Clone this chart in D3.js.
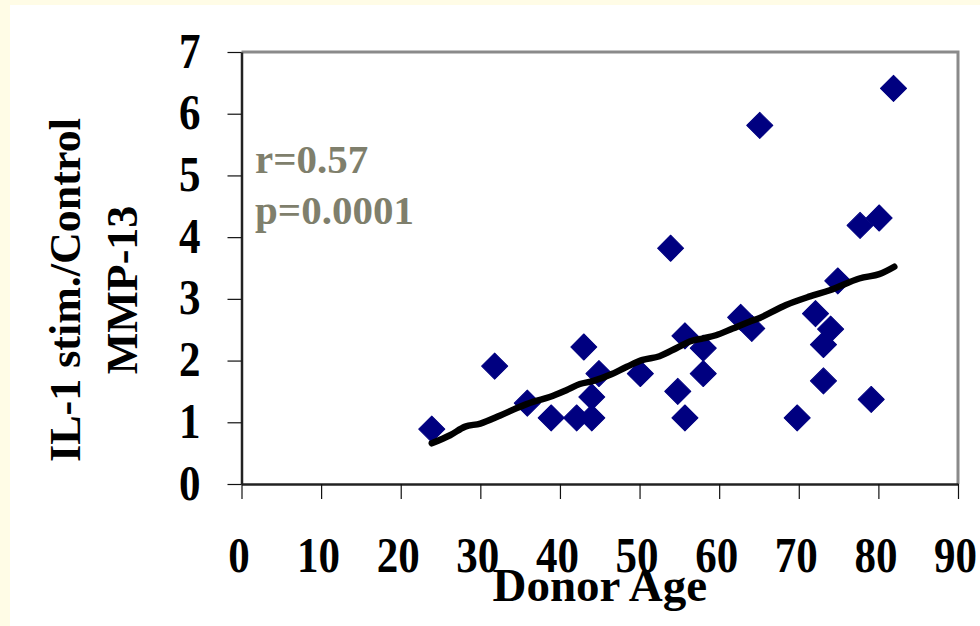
<!DOCTYPE html>
<html>
<head>
<meta charset="utf-8">
<script src="https://cdn.jsdelivr.net/npm/d3@7"></script>
<style>
  html, body { margin: 0; padding: 0; background: #FFFCE6; }
  svg { display: block; }
  text { font-family: "Liberation Serif", "Times New Roman", serif; font-weight: bold; }
</style>
</head>
<body>
<svg id="chart" width="980" height="626"></svg>
<script>
// ---- data ----
const donorAge = [23.9, 31.8, 35.9, 38.9, 42.1, 43.0, 44.0, 44.0, 44.9, 50.1, 53.9, 54.8, 55.7, 55.7, 58.0, 58.0, 62.7, 64.1, 65.1, 69.8, 72.1, 73.1, 73.1, 74.0, 74.9, 77.7, 79.1, 80.1, 81.9];
const mmp13Ratio = [0.89, 1.91, 1.31, 1.07, 1.07, 2.22, 1.41, 1.07, 1.79, 1.79, 3.82, 1.50, 2.40, 1.07, 2.20, 1.79, 2.70, 2.52, 5.81, 1.07, 2.76, 2.26, 1.67, 2.51, 3.29, 4.19, 1.37, 4.31, 6.41];
const trendAge = [23.9, 26.2, 28.1, 30.0, 32.5, 34.6, 36.6, 38.7, 40.8, 42.5, 44.2, 46.3, 48.4, 50.4, 52.5, 54.6, 56.3, 58.0, 59.6, 61.7, 63.8, 65.1, 68.4, 71.4, 73.9, 77.6, 80.1, 82.0];
const trendValue = [0.66, 0.79, 0.93, 0.98, 1.11, 1.23, 1.33, 1.41, 1.52, 1.62, 1.67, 1.77, 1.90, 2.01, 2.07, 2.20, 2.31, 2.36, 2.41, 2.52, 2.63, 2.69, 2.90, 3.04, 3.14, 3.33, 3.40, 3.52];
const xTicks = [0, 10, 20, 30, 40, 50, 60, 70, 80, 90];
const yTicks = [0, 1, 2, 3, 4, 5, 6, 7];
const statLines = ["r=0.57", "p=0.0001"];
const yTitleLines = ["IL-1 stim./Control", "MMP-13"];
const xTitle = "Donor Age";

(function () {
  const svg = d3.select("#chart");
  svg.append("rect").attr("x", 0).attr("y", 0).attr("width", 980).attr("height", 626).attr("fill", "#FFFCE6");
  svg.append("rect").attr("x", 10).attr("y", 5).attr("width", 970).attr("height", 621).attr("fill", "#FFFFFF");

  const pL = 241.5, pR = 958, pT = 52, pB = 484;
  const x = d3.scaleLinear().domain([0, 90]).range([pL, pR]);
  const y = d3.scaleLinear().domain([0, 7]).range([pB, pT]);

  // frame (top/right grey)
  svg.append("path")
    .attr("d", `M${pL},${pT}H${pR}V${pB}`)
    .attr("fill", "none").attr("stroke", "#8a8a8a").attr("stroke-width", 3);

  const font = "'Liberation Serif','Times New Roman',serif";

  // x axis
  const xAxis = svg.append("g").attr("transform", `translate(0,${pB})`)
    .call(d3.axisBottom(x).tickValues(xTicks).tickSize(15).tickSizeOuter(0).tickFormat(d3.format("d")));
  xAxis.select(".domain").attr("stroke", "#222").attr("stroke-width", 2.5);
  xAxis.selectAll(".tick line").attr("stroke", "#111").attr("stroke-width", 1.2);
  xAxis.selectAll(".tick text")
    .attr("fill", "#000").attr("font-size", 43).attr("dy", 0)
    .attr("x", -3).attr("y", 88 / 1.2)
    .attr("transform", "scale(1,1.2)")
    .style("font-family", font).style("font-weight", "bold");

  // y axis
  const yAxis = svg.append("g").attr("transform", `translate(${pL},0)`)
    .call(d3.axisLeft(y).tickValues(yTicks).tickSize(14).tickSizeOuter(0).tickFormat(d3.format("d")));
  yAxis.select(".domain").attr("stroke", "#222").attr("stroke-width", 2.5);
  yAxis.selectAll(".tick line").attr("stroke", "#111").attr("stroke-width", 1.2);
  yAxis.selectAll(".tick text")
    .attr("fill", "#000").attr("font-size", 43).attr("dy", 0)
    .attr("x", -41).attr("y", 15 / 1.2)
    .attr("transform", "scale(1,1.2)")
    .style("font-family", font).style("font-weight", "bold");

  // y-axis title (two lines, rotated)
  const yt = svg.append("text")
    .attr("transform", "translate(80,290) rotate(-90)")
    .attr("text-anchor", "middle").attr("font-size", 44).attr("fill", "#000");
  yt.append("tspan").attr("x", 0).attr("y", 0).text(yTitleLines[0]);
  yt.append("tspan").attr("x", 0).attr("y", 57).text(yTitleLines[1]);

  // x-axis title
  svg.append("text")
    .attr("x", (pL + pR) / 2).attr("y", 601)
    .attr("text-anchor", "middle").attr("font-size", 47).attr("fill", "#000")
    .text(xTitle);

  // stats text
  svg.append("g").selectAll("text").data(statLines).join("text")
    .attr("x", 255).attr("y", (d, i) => 173 + i * 51)
    .attr("font-size", 41).attr("fill", "#7f7f6c")
    .text(d => d);

  // points
  const pts = donorAge.map((a, i) => ({ a, v: mmp13Ratio[i] }));
  const diamond = d3.symbol().type(d3.symbolSquare).size(340);
  svg.append("g").selectAll("path").data(pts).join("path")
    .attr("d", diamond)
    .attr("transform", d => `translate(${x(d.a)},${y(d.v)}) rotate(45)`)
    .attr("fill", "#000080")
    .attr("stroke", "#000080").attr("stroke-width", 1).attr("stroke-linejoin", "round");

  // trend line
  const trend = trendAge.map((a, i) => ({ a, v: trendValue[i] }));
  svg.append("path")
    .datum(trend)
    .attr("d", d3.line().x(d => x(d.a)).y(d => y(d.v)).curve(d3.curveCatmullRom))
    .attr("fill", "none").attr("stroke", "#000").attr("stroke-width", 6.5)
    .attr("stroke-linecap", "round").attr("stroke-linejoin", "round");
})();
</script>
</body>
</html>
